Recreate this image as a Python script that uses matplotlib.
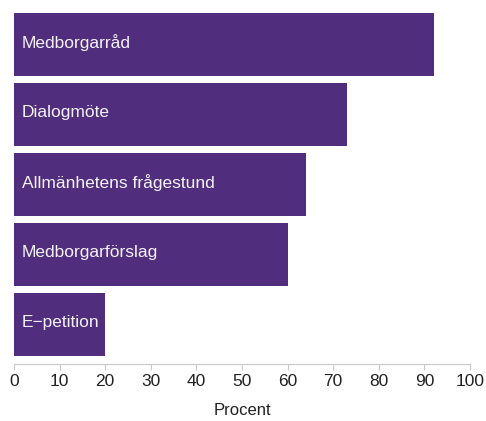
import matplotlib
matplotlib.use("Agg")
import matplotlib.pyplot as plt
import numpy as np

plt.rcParams['font.family'] = ['Liberation Sans', 'DejaVu Sans']

labels = ['Medborgarråd', 'Dialogmöte', 'Allmänhetens frågestund',
          'Medborgarförslag', 'E−petition']
values = [92, 73, 64, 60, 20]
bar_color = '#512d7d'

fig = plt.figure(figsize=(4.86, 4.21), dpi=100)
ax = fig.add_axes([14/486, 57/421, 456/486, 364/421])

ypos = np.arange(len(labels))
ax.barh(ypos, values, height=0.9, color=bar_color)
for y, lab in zip(ypos, labels):
    ax.text(1.75, y - 0.03, lab, color='#f4f2f8', fontsize=12.5, va='center', ha='left')

ax.set_xlim(0, 100)
ax.set_ylim(4.564, -0.636)
ax.set_xticks(np.arange(0, 101, 10))
ax.set_yticks([])
for s in ['top', 'right', 'left']:
    ax.spines[s].set_visible(False)
ax.spines['bottom'].set_color('#c8c8c8')
ax.tick_params(axis='x', colors='#c8c8c8', labelcolor='#222222', length=4,
               labelsize=12.5, pad=3)
ax.set_xlabel('Procent', fontsize=12, color='#222222', labelpad=10)

fig.savefig('out.png', dpi=100)
